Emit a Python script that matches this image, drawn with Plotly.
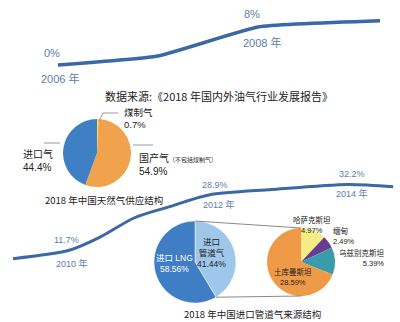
import plotly.graph_objects as go
import math

W, H = 400, 322

# ---- data ----
top_years = [2006, 2007, 2008, 2009.22]
top_values = [0, 1.9, 8, 9.3]
top_labels = [(2006, 0, "0%", "2006 年"), (2008, 8, "8%", "2008 年")]

mid_years = [2009.18, 2010, 2010.44, 2010.92, 2011.41, 2012, 2012.9, 2014, 2014.65]
mid_values = [9.0, 11.7, 15.8, 21.7, 25.1, 28.9, 30.6, 32.2, 31.5]
mid_labels = [(2010, 11.7, "11.7%", "2010 年"), (2012, 28.9, "28.9%", "2012 年"), (2014, 32.2, "32.2%", "2014 年")]

supply_labels = ["煤制气", "国产气", "进口气"]
supply_values = [0.7, 54.9, 44.4]

import_labels = ["进口管道气", "进口 LNG"]
import_values = [41.44, 58.56]

pipe_labels = ["哈萨克斯坦", "缅甸", "乌兹别克斯坦", "土库曼斯坦"]
pipe_values = [4.97, 2.49, 5.39, 28.59]

source_text = "数据来源:《2018 年国内外油气行业发展报告》"
caption1 = "2018 年中国天然气供应结构"
caption2 = "2018 年中国进口管道气来源结构"

# ---- styles ----
LINE = "#3c69a6"
TXT = "#5d80a8"
FONT = "Liberation Sans, Noto Sans CJK SC"
CJK = "Noto Sans CJK SC"


def px(x):
    return x / W


def py(y):
    return 1 - y / H


def dom(cx, cy, r):
    return dict(x=[px(cx - r), px(cx + r)], y=[py(cy + r), py(cy - r)])


fig = go.Figure()

# top snake segment
fig.add_trace(go.Scatter(x=top_years, y=top_values, mode="lines",
                         line=dict(color=LINE, width=3.5, shape="spline", smoothing=0.4),
                         xaxis="x", yaxis="y", hoverinfo="skip"))
# middle snake segment
fig.add_trace(go.Scatter(x=mid_years, y=mid_values, mode="lines",
                         line=dict(color=LINE, width=3, shape="spline", smoothing=0.8),
                         xaxis="x2", yaxis="y2", hoverinfo="skip"))

# pies
c1 = (97, 153, 34)
c2 = (195, 262, 41)
c3 = (301, 262, 34)

fig.add_trace(go.Pie(labels=supply_labels, values=supply_values, sort=False,
                     direction="clockwise", rotation=0, textinfo="none",
                     marker=dict(colors=["#f3e45c", "#f1a24d", "#3f7fc4"], line=dict(width=0)),
                     domain=dom(*c1), showlegend=False, hoverinfo="skip"))
fig.add_trace(go.Pie(labels=import_labels, values=import_values, sort=False,
                     direction="clockwise", rotation=0, textinfo="none",
                     marker=dict(colors=["#9fc7ea", "#3f7ec5"], line=dict(color="white", width=0.5)),
                     domain=dom(*c2), showlegend=False, hoverinfo="skip"))
fig.add_trace(go.Pie(labels=pipe_labels, values=pipe_values, sort=False,
                     direction="clockwise", rotation=0, textinfo="none",
                     marker=dict(colors=["#f6ec86", "#6a3c8c", "#3a9caa", "#ef9a46"], line=dict(width=0)),
                     domain=dom(*c3), showlegend=False, hoverinfo="skip"))

shapes = []
# connectors between pie 2 and pie 3
theta = 2 * math.pi * import_values[0] / sum(import_values)
bx = c2[0] + c2[2] * math.sin(theta)
by = c2[1] - c2[2] * math.cos(theta)
shapes.append(dict(type="line", xref="paper", yref="paper",
                   x0=px(c2[0]), y0=py(c2[1] - c2[2]), x1=px(c3[0]), y1=py(c3[1] - c3[2]),
                   line=dict(color="#8a8a8a", width=1)))
shapes.append(dict(type="line", xref="paper", yref="paper",
                   x0=px(bx), y0=py(by), x1=px(c3[0]), y1=py(c3[1] + c3[2]),
                   line=dict(color="#8a8a8a", width=1)))
# leader lines pie 1
for pts in [[(99, 121), (103, 113), (118, 113)], [(44, 143), (60, 143)], [(133, 145), (153, 145)]]:
    for (xa, ya), (xb, yb) in zip(pts[:-1], pts[1:]):
        shapes.append(dict(type="line", xref="paper", yref="paper",
                           x0=px(xa), y0=py(ya), x1=px(xb), y1=py(yb),
                           line=dict(color="#9a9a9a", width=1)))

ann = []


def txt(x, y, s, size=9, color="#222", xanchor="center", family=FONT, align=None):
    ann.append(dict(x=px(x), y=py(y), xref="paper", yref="paper", text=s,
                    showarrow=False, xanchor=xanchor, yanchor="middle",
                    align=align or ("left" if xanchor == "left" else "center"),
                    font=dict(size=size, color=color, family=family)))


# top line labels
for (yr, v, pct, ylab), (dxp, dyp, dxy, dyy) in zip(top_labels, [(-6, 12, 2, -13), (-6, 13, 4, -15)]):
    ann.append(dict(x=yr, y=v, xref="x", yref="y", text=pct, showarrow=False, xshift=dxp, yshift=dyp,
                    font=dict(size=11, color=TXT, family=FONT)))
    ann.append(dict(x=yr, y=v, xref="x", yref="y", text=ylab, showarrow=False, xshift=dxy, yshift=dyy,
                    font=dict(size=11, color=TXT, family=FONT)))
# mid line labels
for (yr, v, pct, ylab), (dxp, dyp, dxy, dyy) in zip(mid_labels, [(-4, 10, 2, -13), (6, 10, 10, -10), (4, 10, 4, -9)]):
    ann.append(dict(x=yr, y=v, xref="x2", yref="y2", text=pct, showarrow=False, xshift=dxp, yshift=dyp,
                    font=dict(size=9, color=TXT, family=FONT)))
    ann.append(dict(x=yr, y=v, xref="x2", yref="y2", text=ylab, showarrow=False, xshift=dxy, yshift=dyy,
                    font=dict(size=9, color=TXT, family=FONT)))

# source
txt(219, 96, source_text, size=11, color="#222", family=CJK)

# pie 1 labels
txt(122, 119, "%s<br>%.1f%%" % (supply_labels[0], supply_values[0]), size=9.5, xanchor="left")
txt(21, 160, "%s<br>%.1f%%" % (supply_labels[2], supply_values[2]), size=10, xanchor="left")
txt(137, 164, "%s<span style='font-size:6px'>（不包括煤制气）</span><br>%.1f%%" % (supply_labels[1], supply_values[1]),
    size=10, xanchor="left")
txt(104, 200, caption1, size=9.5, color="#222", family=CJK)

# pie 2 labels
txt(174, 263, "%s<br>%.2f%%" % (import_labels[1], import_values[1]), size=8.5, color="white")
txt(211, 253, "进口<br>管道气<br>%.2f%%" % import_values[0], size=8.5)

# pie 3 labels
txt(312, 225, "%s<br>%.2f%%" % (pipe_labels[0], pipe_values[0]), size=7.5)
txt(331, 236, "%s<br>%.2f%%" % (pipe_labels[1], pipe_values[1]), size=7.5, xanchor="left")
txt(337, 258, "%s<br>%.2f%%" % (pipe_labels[2], pipe_values[2]), size=7.5, xanchor="left", align="right")
txt(293, 277, "%s<br>%.2f%%" % (pipe_labels[3], pipe_values[3]), size=7.5)

txt(253, 314, caption2, size=9.5, color="#222", family=CJK)

hidden = dict(showgrid=False, zeroline=False, showticklabels=False, showline=False, ticks="", fixedrange=True)

fig.update_layout(
    width=W, height=H, margin=dict(l=0, r=0, t=0, b=0),
    paper_bgcolor="white", plot_bgcolor="white", showlegend=False,
    xaxis=dict(domain=[0, 1], range=[2006 - 0.58, 2006 + 3.42], **hidden),
    yaxis=dict(domain=[py(90), 1], range=[-25 / 4.75, 65 / 4.75], **hidden),
    xaxis2=dict(domain=[0, 1], range=[2010 - 70 / 69.5, 2010 + 330 / 69.5], anchor="y2", **hidden),
    yaxis2=dict(domain=[0, py(160)], range=[11.7 - 72 / 3.2, 11.7 + 90 / 3.2], anchor="x2", **hidden),
    shapes=shapes, annotations=ann,
)

fig.write_html("out.html", config={"displayModeBar": False})
